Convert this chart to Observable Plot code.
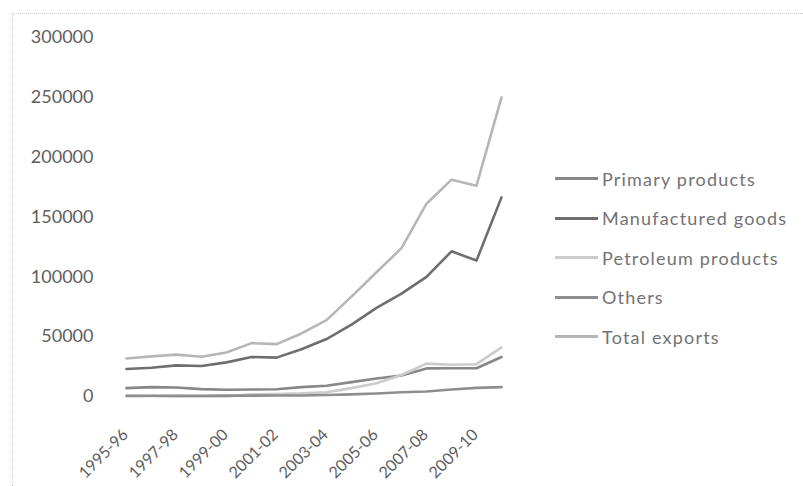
<!DOCTYPE html>
<html>
<head>
<meta charset="utf-8">
<script src="https://cdn.jsdelivr.net/npm/d3@7"></script>
<script src="https://cdn.jsdelivr.net/npm/@observablehq/plot@0.6"></script>
<style>
  html, body { margin: 0; padding: 0; background: #fff; }
  #wrap { position: relative; width: 803px; height: 486px; overflow: hidden; }
  #frame { position: absolute; left: 12px; top: 13px; width: 790px; height: 480px;
           border-left: 1px dotted #c8c8c8; border-top: 1px dotted #c8c8c8; pointer-events: none; }
  #legend { position: absolute; left: 555px; top: 159px; font-family: Lato, "Open Sans", sans-serif;
            font-size: 18px; letter-spacing: 1.2px; color: #737373; }
  .item { display: flex; align-items: center; height: 39.5px; }
  .swatch { width: 43px; margin-right: 4px; }
</style>
</head>
<body>
<div id="wrap">
  <div id="frame"></div>
  <div id="chart"></div>
  <div id="legend"></div>
</div>
<script>
// Fiscal years on the x axis
const years = ["1995-96","1996-97","1997-98","1998-99","1999-00","2000-01","2001-02","2002-03",
               "2003-04","2004-05","2005-06","2006-07","2007-08","2008-09","2009-10","2010-11"];

// Export values by category
const primaryProducts    = [7000, 7800, 7500, 6200, 5600, 5800, 6000, 7800, 9000, 12000, 15000, 17500, 23500, 23600, 23600, 33000];
const manufacturedGoods  = [23000, 24000, 26000, 25500, 28500, 33000, 32500, 39500, 48000, 60000, 74000, 86000, 100000, 121300, 113600, 166400];
const petroleumProducts  = [450, 480, 350, 90, 40, 1900, 2100, 2600, 3600, 7000, 11000, 18000, 27500, 26500, 27000, 41000];
const others             = [500, 600, 500, 600, 700, 700, 800, 800, 1200, 1800, 2500, 3600, 4200, 5800, 7200, 7800];
const totalExports       = [31800, 33500, 35000, 33200, 36800, 44600, 43800, 52700, 63800, 83500, 103800, 124000, 161100, 181200, 176200, 249900];

const seriesNames = ["Primary products", "Manufactured goods", "Petroleum products", "Others", "Total exports"];
const seriesValues = [primaryProducts, manufacturedGoods, petroleumProducts, others, totalExports];
const seriesColors = ["#878787", "#6e6e6e", "#cbcbcb", "#8e8e8e", "#b6b6b6"];

const yTicks = [0, 50000, 100000, 150000, 200000, 250000, 300000];
const xTicks = years.filter((d, i) => i % 2 === 0);

const rows = seriesNames.flatMap((name, s) =>
  years.map((year, i) => ({series: name, year, value: seriesValues[s][i]})));

const chart = Plot.plot({
  width: 803,
  height: 486,
  marginLeft: 124,
  marginRight: 300,
  marginTop: 37,
  marginBottom: 90,
  style: {fontFamily: "Lato, 'Open Sans', sans-serif", color: "#5e5e5e", background: "transparent"},
  x: {type: "point", domain: years, padding: 0},
  y: {domain: [0, 300000]},
  color: {domain: seriesNames, range: seriesColors},
  marks: [
    Plot.axisY({ticks: yTicks, label: null, tickSize: 0, tickPadding: 31, fontSize: 18,
                letterSpacing: 0.4, tickFormat: d => String(d)}),
    Plot.axisX({ticks: xTicks, label: null, tickSize: 0, tickRotate: -45, tickPadding: 35.5,
                dx: -1, fontSize: 16, letterSpacing: 1.0}),
    Plot.line(rows, {x: "year", y: "value", z: "series", stroke: "series",
                     strokeWidth: 2.6, strokeLinejoin: "round", curve: "linear"})
  ]
});
document.getElementById("chart").appendChild(chart);

// Legend beside the plot
const legend = d3.select("#legend");
seriesNames.forEach((name, i) => {
  const item = legend.append("div").attr("class", "item");
  item.append("div").attr("class", "swatch")
      .style("border-top", `3px solid ${seriesColors[i]}`);
  item.append("span").text(name);
});
</script>
</body>
</html>
